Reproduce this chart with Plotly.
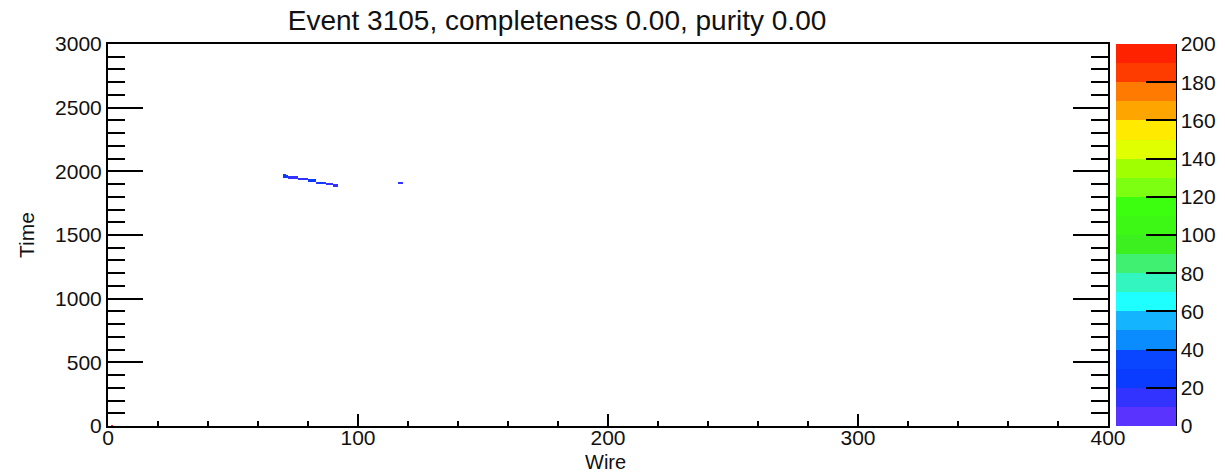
import numpy as np
import plotly.graph_objects as go

# ---------------- data ----------------
title_text = "Event 3105, completeness 0.00, purity 0.00"
x_title = "Wire"
y_title = "Time"

n_wires = 400
t_max = 3000
t_bin = 10

# hits: wire, time-bin lower edge, charge
hit_wire = [1,
            70, 70, 70, 71, 71,
            72, 72, 73, 73, 74, 74, 75, 75,
            76, 76, 77, 77, 78, 78, 79, 79,
            80, 80, 81, 81, 82, 82,
            83, 83, 84, 84, 85, 85, 86, 86,
            87, 87, 88, 88, 89, 89,
            90, 90, 91, 91,
            116, 116, 117, 117]
hit_time = [0,
            1950, 1960, 1970, 1950, 1960,
            1940, 1950, 1940, 1950, 1940, 1950, 1940, 1950,
            1930, 1940, 1930, 1940, 1930, 1940, 1930, 1940,
            1920, 1930, 1920, 1930, 1920, 1930,
            1900, 1910, 1900, 1910, 1900, 1910, 1900, 1910,
            1890, 1900, 1890, 1900, 1890, 1900,
            1880, 1890, 1880, 1890,
            1900, 1910, 1900, 1910]
hit_charge = [200,
              28, 28, 28, 24, 24,
              16, 16, 16, 16, 16, 16, 16, 16,
              18, 18, 18, 18, 18, 18, 18, 18,
              26, 26, 26, 26, 22, 22,
              16, 16, 24, 24, 24, 24, 16, 16,
              16, 16, 16, 16, 16, 16,
              16, 16, 16, 16,
              16, 16, 16, 16]

# palette bands (0-10, 10-20, ... 190-200)
band_colors = ["#5a33ff", "#3333ff", "#0a3cff", "#0a46ff", "#0a8cff",
               "#14b4ff", "#1effff", "#33f5c0", "#40f070", "#3cf020",
               "#3cf814", "#3cff10", "#7cff10", "#a0ff00", "#e0ff00",
               "#ffea00", "#ffa500", "#ff7a00", "#ff3c00", "#ff2200"]
z_min, z_max = 0, 200
cbar_ticks = list(range(0, 201, 20))

# ---------------- build histogram ----------------
n_tbins = t_max // t_bin
z = np.full((n_tbins, n_wires), np.nan)
for w, t, q in zip(hit_wire, hit_time, hit_charge):
    z[t // t_bin, w] = q

nb = len(band_colors)
colorscale = []
for i, c in enumerate(band_colors):
    colorscale.append([i / nb, c])
    colorscale.append([(i + 1) / nb, c])

FONT = "Liberation Sans, Arial, Helvetica, sans-serif"
W, H = 1225, 473
L, R, T, B = 108, 117, 44, 47
pw = W - L - R
ph = H - T - B

fig = go.Figure()
fig.add_trace(go.Heatmap(
    z=z, x0=0.5, dx=1, y0=t_bin / 2, dy=t_bin,
    zmin=z_min, zmax=z_max, colorscale=colorscale,
    hoverongaps=False,
    colorbar=dict(
        x=1 + 8 / pw, xanchor="left", xpad=0,
        y=0, yanchor="bottom", ypad=0, len=1, lenmode="fraction",
        thickness=60, thicknessmode="pixels",
        tickvals=cbar_ticks, ticks="inside", ticklen=30, tickwidth=1.5,
        tickcolor="black", outlinewidth=0,
        tickfont=dict(family=FONT, size=21, color="#111"),
    ),
))

axis_common = dict(showgrid=False, zeroline=False, showline=True,
                   linecolor="black", linewidth=2, ticks="inside",
                   tickcolor="black", tickwidth=1.5,
                   tickfont=dict(family=FONT, size=21, color="#111"))
fig.update_xaxes(range=[0, n_wires], dtick=100, tick0=0, ticklen=12,
                 mirror=True, ticklabelstandoff=-8,
                 minor=dict(dtick=20, ticklen=5, ticks="inside",
                            tickcolor="black", tickwidth=1.5),
                 **axis_common)
fig.update_yaxes(range=[0, t_max], dtick=500, tick0=0, ticklen=35,
                 mirror="ticks",
                 minor=dict(dtick=100, ticklen=17, ticks="inside",
                            tickcolor="black", tickwidth=1.5),
                 **axis_common)

fig.add_shape(type="line", xref="paper", yref="paper",
              x0=1 + 68 / pw, x1=1 + 68 / pw, y0=0, y1=1,
              line=dict(color="black", width=2))

fig.add_annotation(text=y_title, xref="paper", yref="paper",
                   x=(26 - L) / pw, y=0.5, textangle=-90, showarrow=False,
                   xanchor="center", yanchor="middle",
                   font=dict(family=FONT, size=21, color="#111"))
fig.add_annotation(text=x_title, xref="paper", yref="paper",
                   x=(605 - L) / pw, y=-(462 - (T + ph)) / ph, showarrow=False,
                   xanchor="center", yanchor="middle",
                   font=dict(family=FONT, size=20, color="#111"))

fig.update_layout(
    width=W, height=H,
    margin=dict(l=L, r=R, t=T, b=B, autoexpand=False),
    paper_bgcolor="white", plot_bgcolor="white",
    title=dict(text=title_text, xref="container", yref="container",
               x=557 / W, xanchor="center", y=1 - 20 / H, yanchor="middle",
               font=dict(family=FONT, size=28, color="#111")),
    showlegend=False,
)

fig.write_html("out.html")
